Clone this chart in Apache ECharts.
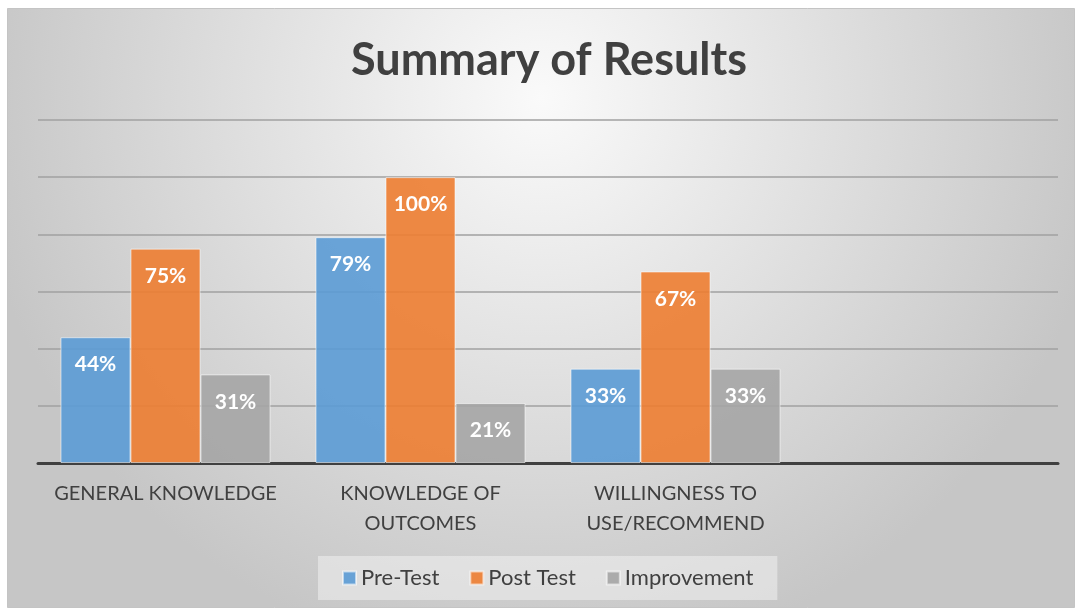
<!DOCTYPE html>
<html>
<head>
<meta charset="utf-8">
<script src="https://cdn.jsdelivr.net/npm/echarts@6/dist/echarts.min.js"></script>
<style>
  html, body { margin: 0; padding: 0; background: #fff; }
  #chart { width: 1078px; height: 611px; }
</style>
</head>
<body>
<div id="chart"></div>
<script>
// categories and values
var categories = ['GENERAL KNOWLEDGE', 'KNOWLEDGE OF\nOUTCOMES', 'WILLINGNESS TO\nUSE/RECOMMEND', ''];
var preTest = [0.44, 0.79, 0.33];
var postTest = [0.75, 1.00, 0.67];
var improvement = [0.31, 0.21, 0.33];

var chart = echarts.init(document.getElementById('chart'));

var labelStyle = {
  show: true,
  position: 'insideTop',
  distance: 17,
  color: '#ffffff',
  fontSize: 21,
  fontWeight: 'bold',
  fontFamily: 'Lato',
  formatter: function (p) { return Math.round(p.value * 100) + '%'; }
};

function bar(name, data, color) {
  return {
    name: name,
    type: 'bar',
    data: data,
    barWidth: 70,
    barGap: '0%',
    itemStyle: { color: color, borderColor: 'rgba(255,255,255,0.55)', borderWidth: 1 },
    label: labelStyle
  };
}

var option = {
  animation: false,
  graphic: [{
    type: 'rect',
    z: -10,
    shape: { x: 7.5, y: 8.5, width: 1067, height: 599 },
    style: {
      fill: new echarts.graphic.RadialGradient(0.5, 0.15, 0.95, [
        { offset: 0, color: '#fafafa' },
        { offset: 1, color: '#c6c6c6' }
      ]),
      stroke: '#c4c4c4',
      lineWidth: 1
    }
  }],
  title: {
    text: 'Summary of Results',
    left: 346,
    top: 33,
    textStyle: { fontSize: 45, fontWeight: 'bold', color: '#404040', fontFamily: 'Lato' }
  },
  legend: {
    bottom: 11,
    left: 318,
    itemWidth: 13,
    itemHeight: 13,
    itemGap: 30,
    padding: [11, 24],
    backgroundColor: 'rgba(240,240,240,0.55)',
    icon: 'rect',
    textStyle: { fontSize: 22, color: '#404040', fontFamily: 'Lato' },
    data: ['Pre-Test', 'Post Test', 'Improvement']
  },
  grid: { left: 38, right: 20, top: 120, bottom: 148, containLabel: false },
  xAxis: {
    type: 'category',
    data: categories,
    axisLine: { lineStyle: { color: '#404040', width: 3 } },
    axisTick: { show: false },
    axisLabel: { color: '#404040', fontSize: 20, lineHeight: 30, margin: 16, fontFamily: 'Lato', interval: 0 }
  },
  yAxis: {
    type: 'value',
    min: 0,
    max: 1.2,
    interval: 0.2,
    axisLabel: { show: false },
    axisLine: { show: false },
    axisTick: { show: false },
    splitLine: { lineStyle: { color: '#a0a0a0', width: 1.5 } }
  },
  series: [
    bar('Pre-Test', preTest, 'rgba(91,155,213,0.9)'),
    bar('Post Test', postTest, 'rgba(237,125,49,0.9)'),
    bar('Improvement', improvement, 'rgba(165,165,165,0.9)')
  ]
};

chart.setOption(option);
</script>
</body>
</html>
